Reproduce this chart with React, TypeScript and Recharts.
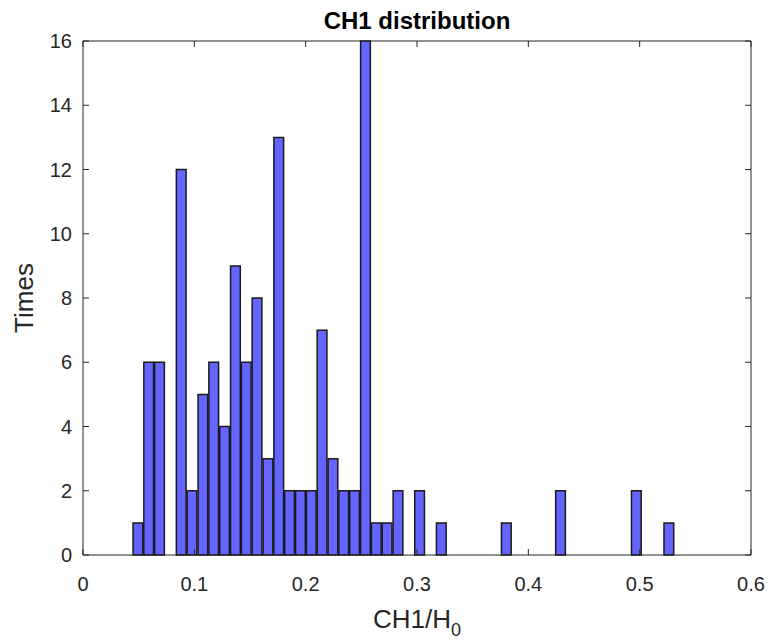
import { Bar, BarChart, ReferenceLine, XAxis, YAxis } from 'recharts';

// histogram of CH1/H0, 50 equal bins between min and max of the data
const binCenters = [
  0.0489, 0.0586, 0.0683, 0.0781, 0.0878, 0.0975, 0.1073, 0.117, 0.1267, 0.1365,
  0.1462, 0.1559, 0.1657, 0.1754, 0.1851, 0.1949, 0.2046, 0.2143, 0.2241, 0.2338,
  0.2435, 0.2533, 0.263, 0.2727, 0.2825, 0.2922, 0.3019, 0.3117, 0.3214, 0.3311,
  0.3409, 0.3506, 0.3603, 0.3701, 0.3798, 0.3895, 0.3993, 0.409, 0.4187, 0.4285,
  0.4382, 0.4479, 0.4577, 0.4674, 0.4771, 0.4869, 0.4966, 0.5063, 0.5161, 0.5258,
];
const counts = [
  1, 6, 6, 0, 12, 2, 5, 6, 4, 9,
  6, 8, 3, 13, 2, 2, 2, 7, 3, 2,
  2, 16, 1, 1, 2, 0, 2, 0, 1, 0,
  0, 0, 0, 0, 1, 0, 0, 0, 0, 2,
  0, 0, 0, 0, 0, 0, 2, 0, 0, 1,
];
const xTicks = [0, 0.1, 0.2, 0.3, 0.4, 0.5, 0.6];
const yTicks = [0, 2, 4, 6, 8, 10, 12, 14, 16];

const data = binCenters.map((center, i) => ({ center, count: counts[i] }));

const W = 771;
const H = 643;
const PLOT = { left: 83, top: 41, right: 751, bottom: 555 };
const AXIS = '#262626';
const FONT = '"Liberation Sans", Arial, sans-serif';
const TICK = 6;

function XTick(props: any) {
  const cx = props.payload.coordinate;
  return (
    <g>
      <line x1={cx} x2={cx} y1={PLOT.bottom} y2={PLOT.bottom - TICK} stroke={AXIS} />
      <line x1={cx} x2={cx} y1={PLOT.top} y2={PLOT.top + TICK} stroke={AXIS} />
      <text x={cx} y={PLOT.bottom + 36} textAnchor="middle" fontSize={20} fill={AXIS} fontFamily={FONT}>
        {String(props.payload.value)}
      </text>
    </g>
  );
}

function YTick(props: any) {
  const cy = props.payload.coordinate;
  return (
    <g>
      <line x1={PLOT.left} x2={PLOT.left + TICK} y1={cy} y2={cy} stroke={AXIS} />
      <line x1={PLOT.right - TICK} x2={PLOT.right} y1={cy} y2={cy} stroke={AXIS} />
      <text x={PLOT.left - 11} y={cy + 7} textAnchor="end" fontSize={20} fill={AXIS} fontFamily={FONT}>
        {String(props.payload.value)}
      </text>
    </g>
  );
}

export default function App() {
  const midX = (PLOT.left + PLOT.right) / 2;
  const midY = (PLOT.top + PLOT.bottom) / 2;
  return (
    <div style={{ position: 'absolute', left: 0, top: 0, width: W, height: H, background: '#fff' }}>
      <BarChart width={W} height={H} data={data} margin={{ top: 41, right: 20, bottom: 0, left: 0 }} barGap={0}>
        <XAxis
          dataKey="center"
          type="number"
          domain={[0, 0.6]}
          ticks={xTicks}
          interval={0}
          height={88}
          stroke={AXIS}
          tickLine={false}
          tick={<XTick />}
          label={{
            content: () => (
              <g>
                <text x={midX} y={628} textAnchor="middle" fontSize={26} fill={AXIS} fontFamily={FONT}>
                  CH1/H<tspan dy={8} fontSize={18}>0</tspan>
                </text>
                <text x={midX} y={29} textAnchor="middle" fontSize={24} fontWeight="bold" fill="#000" fontFamily={FONT}>
                  CH1 distribution
                </text>
              </g>
            ),
          }}
        />
        <YAxis
          type="number"
          domain={[0, 16]}
          ticks={yTicks}
          interval={0}
          width={83}
          stroke={AXIS}
          tickLine={false}
          tick={<YTick />}
          label={{
            content: () => (
              <text
                x={33}
                y={midY}
                transform={`rotate(-90 33 ${midY})`}
                textAnchor="middle"
                fontSize={26}
                fill={AXIS}
                fontFamily={FONT}
              >
                Times
              </text>
            ),
          }}
        />
        <Bar dataKey="count" fill="#6464ff" stroke="#1a1a1a" strokeWidth={1.5} barSize={10.84} isAnimationActive={false} />
        <ReferenceLine y={16} stroke={AXIS} />
        <ReferenceLine x={0.6} stroke={AXIS} />
      </BarChart>
    </div>
  );
}
